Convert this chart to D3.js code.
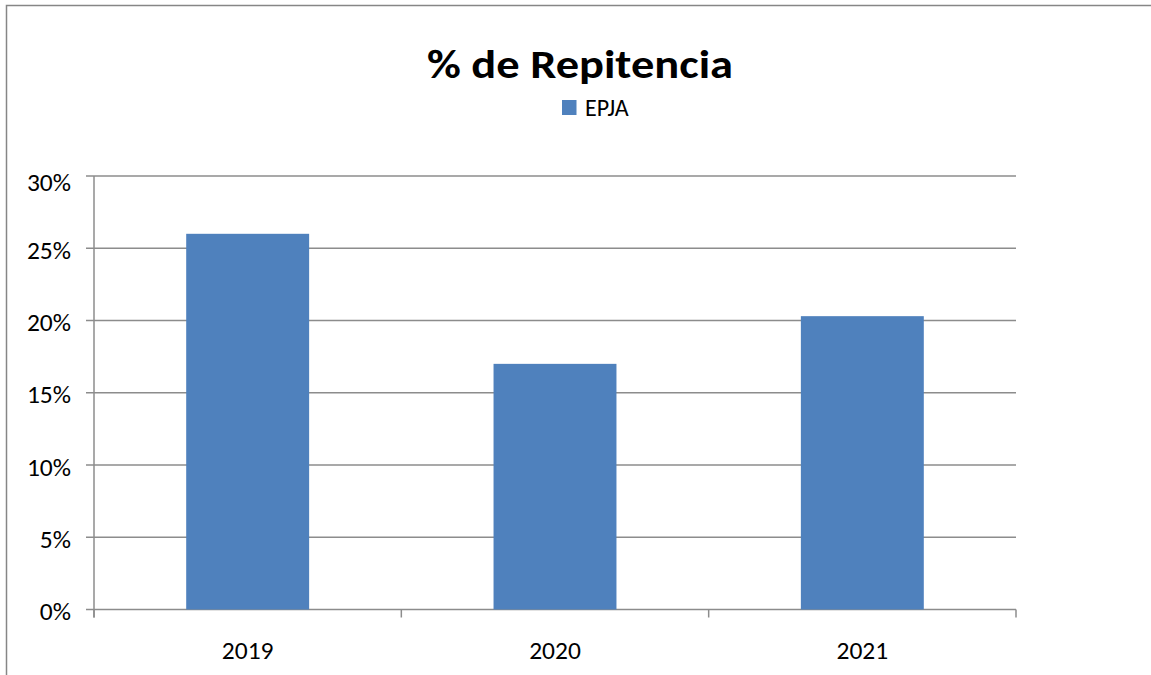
<!DOCTYPE html>
<html>
<head>
<meta charset="utf-8">
<script src="https://cdn.jsdelivr.net/npm/d3@7"></script>
<style>
  html, body { margin: 0; padding: 0; background: #fff; }
  svg { display: block; font-family: Carlito, Lato, "Open Sans", sans-serif; }
</style>
</head>
<body>
<div id="chart"></div>
<script>
const categories = ['2019', '2020', '2021'];
const seriesName = 'EPJA';
const values = [0.26, 0.17, 0.203];
const yTicks = [0, 0.05, 0.10, 0.15, 0.20, 0.25, 0.30];

const width = 1151, height = 675;
const margin = { top: 176, right: 135, bottom: 65.5, left: 94 };

const svg = d3.select('#chart').append('svg')
  .attr('width', width)
  .attr('height', height);

// Outer chart border (right/bottom edges fall outside the frame)
svg.append('rect')
  .attr('x', 6.5).attr('y', 5.5)
  .attr('width', width + 10).attr('height', height + 10)
  .attr('fill', 'none')
  .attr('stroke', '#868686')
  .attr('stroke-width', 1.5);

const x = d3.scaleBand()
  .domain(categories)
  .range([margin.left, width - margin.right])
  .paddingInner(0.6)
  .paddingOuter(0.3);

const y = d3.scaleLinear()
  .domain([0, 0.30])
  .range([height - margin.bottom, margin.top]);

// Gridlines
svg.append('g')
  .selectAll('line').data(yTicks).join('line')
  .attr('x1', margin.left - 8)
  .attr('x2', width - margin.right)
  .attr('y1', d => y(d))
  .attr('y2', d => y(d))
  .attr('stroke', '#8c8c8c')
  .attr('stroke-width', 1.5);

// Bars
svg.append('g')
  .selectAll('rect').data(values).join('rect')
  .attr('x', (d, i) => x(categories[i]))
  .attr('y', d => y(d))
  .attr('width', x.bandwidth())
  .attr('height', d => y(0) - y(d))
  .attr('fill', '#4F81BD');

// Y axis line
svg.append('line')
  .attr('x1', margin.left).attr('x2', margin.left)
  .attr('y1', y(0.30)).attr('y2', y(0) + 8)
  .attr('stroke', '#8c8c8c')
  .attr('stroke-width', 1.5);

// Category tick marks at band boundaries
const step = (width - margin.right - margin.left) / categories.length;
svg.append('g')
  .selectAll('line').data(d3.range(categories.length + 1)).join('line')
  .attr('x1', i => margin.left + i * step)
  .attr('x2', i => margin.left + i * step)
  .attr('y1', y(0))
  .attr('y2', y(0) + 8)
  .attr('stroke', '#8c8c8c')
  .attr('stroke-width', 1.5);

// Y tick labels (top one sits a little lower, as Excel keeps it inside)
const yMax = d3.max(yTicks);
svg.append('g')
  .selectAll('text').data(yTicks).join('text')
  .attr('x', 71)
  .attr('y', d => y(d) + (d === yMax ? 15 : 10.5))
  .attr('text-anchor', 'end')
  .attr('font-size', 25.5)
  .attr('fill', '#000')
  .text(d3.format('.0%'));

// X labels
svg.append('g')
  .selectAll('text').data(categories).join('text')
  .attr('x', d => x(d) + x.bandwidth() / 2)
  .attr('y', 659)
  .attr('text-anchor', 'middle')
  .attr('font-size', 25.5)
  .attr('fill', '#000')
  .text(d => d);

// Title
svg.append('text')
  .attr('x', 427)
  .attr('y', 77.5)
  .attr('font-size', 41)
  .attr('font-weight', 'bold')
  .attr('fill', '#000')
  .attr('textLength', 306)
  .attr('lengthAdjust', 'spacingAndGlyphs')
  .text('% de Repitencia');

// Legend
const legend = svg.append('g').attr('transform', 'translate(562,100)');
legend.append('rect')
  .attr('width', 14.5).attr('height', 15)
  .attr('fill', '#4F81BD');
legend.append('text')
  .attr('x', 23).attr('y', 16)
  .attr('font-size', 24)
  .attr('fill', '#000')
  .text(seriesName);
</script>
</body>
</html>
